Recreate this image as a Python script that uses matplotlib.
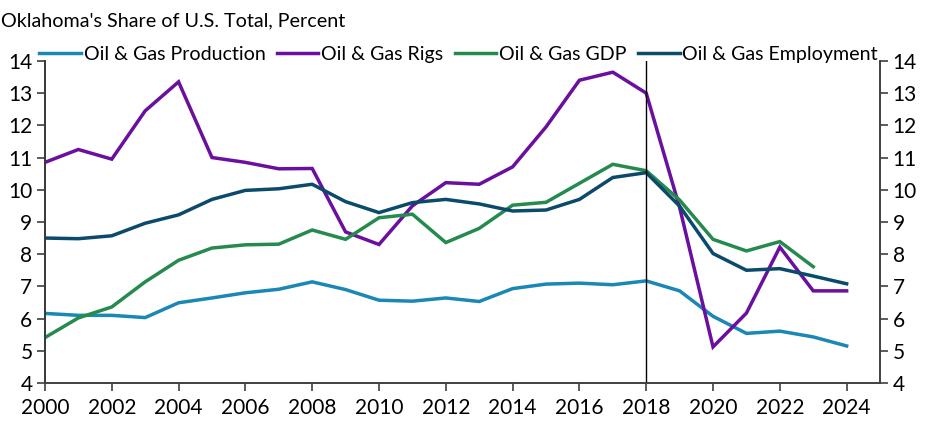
import matplotlib.pyplot as plt

plt.rcParams["font.family"] = ["Lato", "DejaVu Sans"]

years = list(range(2000, 2025))

production = [6.16, 6.10, 6.10, 6.03, 6.49, 6.64, 6.80, 6.91, 7.14, 6.90,
              6.57, 6.54, 6.64, 6.53, 6.93, 7.07, 7.10, 7.05, 7.17, 6.86,
              6.07, 5.54, 5.61, 5.43, 5.15]
rigs = [10.85, 11.25, 10.95, 12.45, 13.35, 11.00, 10.85, 10.65, 10.66, 8.69,
        8.30, 9.50, 10.22, 10.17, 10.71, 11.95, 13.40, 13.65, 13.00, 9.45,
        5.12, 6.17, 8.22, 6.86, 6.86]
gdp = [5.41, 6.02, 6.36, 7.14, 7.81, 8.19, 8.29, 8.31, 8.75, 8.46,
       9.13, 9.24, 8.36, 8.80, 9.52, 9.61, 10.20, 10.79, 10.59, 9.68,
       8.46, 8.10, 8.39, 7.61, None]
employment = [8.50, 8.48, 8.57, 8.96, 9.22, 9.70, 9.98, 10.03, 10.17, 9.63,
              9.29, 9.60, 9.70, 9.56, 9.34, 9.37, 9.70, 10.38, 10.53, 9.49,
              8.02, 7.50, 7.55, 7.32, 7.08]

series = [
    ("Oil & Gas Production", production, "#1b87b4"),
    ("Oil & Gas Rigs", rigs, "#6a0f9e"),
    ("Oil & Gas GDP", gdp, "#258a4e"),
    ("Oil & Gas Employment", employment, "#0b4a6b"),
]

fig = plt.figure(figsize=(9.25, 4.26), dpi=100)
ax = fig.add_axes([0.0486, 0.101, 0.9028, 0.756])

for label, vals, color in series:
    xs = [y for y, v in zip(years, vals) if v is not None]
    ys = [v for v in vals if v is not None]
    ax.plot(xs, ys, color=color, lw=2.5, label=label, solid_joinstyle="miter")

# vertical marker at 2018
ax.axvline(2018, color="black", lw=1.0)

ax.set_xlim(2000, 2025)
ax.set_ylim(4, 14)
ax.set_xticks(range(2000, 2025, 2))
ax.set_yticks(range(4, 15))

ax2 = ax.twinx()
ax2.set_ylim(4, 14)
ax2.set_yticks(range(4, 15))

for a in (ax, ax2):
    a.spines["top"].set_visible(False)
    for s in ("left", "right", "bottom"):
        a.spines[s].set_color("#404040")
        a.spines[s].set_linewidth(1.2)
    a.tick_params(labelsize=15, length=6, width=1.2, color="#404040", pad=3)
ax.spines["left"].set_color("black")
ax.tick_params(axis="x", pad=5)

fig.text(0.001, 0.952, "Oklahoma's Share of U.S. Total, Percent",
         fontsize=14.2, ha="left", va="center")

fig.legend(loc="center", bbox_to_anchor=(0.496, 0.873), ncol=4, frameon=False,
           fontsize=14.1, handlelength=2.1, handletextpad=0.15, columnspacing=0.6,
           borderaxespad=0)

fig.savefig("out.png", dpi=100)
